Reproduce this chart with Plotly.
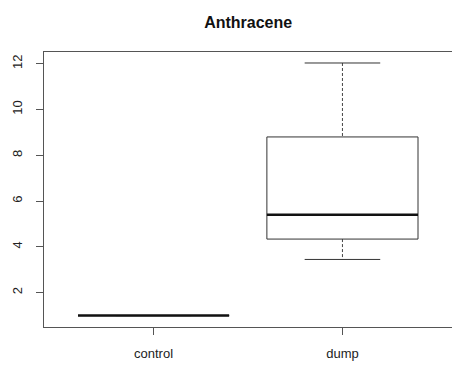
import plotly.graph_objects as go

categories = ["control", "dump"]
positions = [1, 2]
lower_whisker = [1.0, 3.45]
q1 = [1.0, 4.34]
median = [1.0, 5.40]
q3 = [1.0, 8.80]
upper_whisker = [1.0, 12.03]
y_ticks = [2, 4, 6, 8, 10, 12]

box_w = 0.8
cap_w = 0.4

fig = go.Figure()
line = dict(color="#333333", width=1)
for i, p in enumerate(positions):
    hb = box_w / 2
    hc = cap_w / 2
    # whiskers (dashed)
    fig.add_trace(go.Scatter(x=[p, p, None, p, p],
                             y=[upper_whisker[i], q3[i], None, q1[i], lower_whisker[i]],
                             mode="lines", line=dict(color="#444444", width=1, dash="3px,2px"),
                             hoverinfo="skip", showlegend=False))
    # caps
    fig.add_trace(go.Scatter(x=[p - hc, p + hc, None, p - hc, p + hc],
                             y=[upper_whisker[i], upper_whisker[i], None, lower_whisker[i], lower_whisker[i]],
                             mode="lines", line=line, hoverinfo="skip", showlegend=False))
    # box
    fig.add_trace(go.Scatter(x=[p - hb, p + hb, p + hb, p - hb, p - hb],
                             y=[q1[i], q1[i], q3[i], q3[i], q1[i]],
                             mode="lines", line=line, hoverinfo="skip", showlegend=False))
    # median
    fig.add_trace(go.Scatter(x=[p - hb, p + hb], y=[median[i], median[i]],
                             mode="lines", line=dict(color="#111111", width=2.5),
                             hoverinfo="skip", showlegend=False))

fig.update_layout(
    width=452, height=365,
    margin=dict(l=44, r=0, t=52, b=38),
    paper_bgcolor="white", plot_bgcolor="white",
    font=dict(family="Liberation Sans, Arial, sans-serif", size=13, color="#222222"),
    title=dict(text="<b>Anthracene</b>", x=0.549, xanchor="center", y=0.94, yanchor="middle",
               font=dict(size=16, color="#111111")),
    xaxis=dict(range=[0.42, 2.58], tickvals=positions, ticktext=categories,
               showgrid=False, zeroline=False, showline=True, mirror=True,
               linecolor="#555555", linewidth=1, ticks="outside", ticklen=7,
               tickcolor="#555555", tickfont=dict(size=13), ticklabelstandoff=7),
    yaxis=dict(range=[0.50, 12.51], tickvals=y_ticks, ticktext=[str(t) for t in y_ticks],
               showgrid=False, zeroline=False, showline=True, mirror=True,
               linecolor="#555555", linewidth=1, ticks="outside", ticklen=7,
               tickcolor="#555555", tickangle=-90, tickfont=dict(size=13), ticklabelstandoff=9),
)

fig.write_html("out.html")
